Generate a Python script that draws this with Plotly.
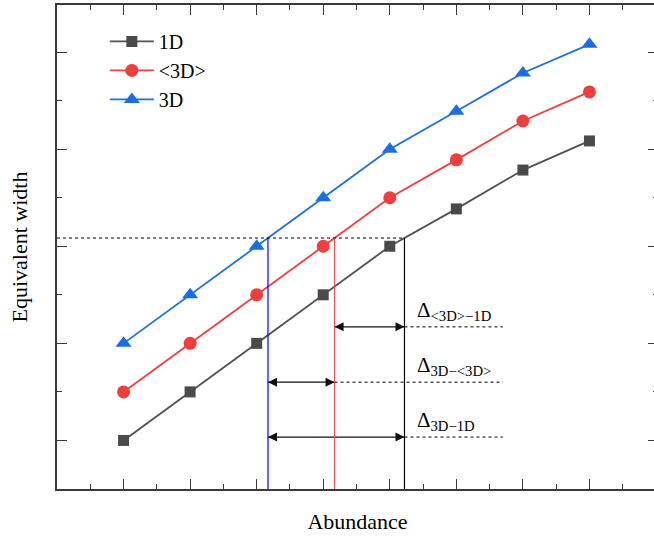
import numpy as np
import plotly.graph_objects as go

abundance = [1, 2, 3, 4, 5, 6, 7, 8]
ew_1d = [1.0, 2.0, 3.0, 4.0, 5.0, 5.77, 6.57, 7.17]
ew_3d_avg = [2.0, 3.0, 4.0, 5.0, 6.0, 6.78, 7.58, 8.18]
ew_3d = [3.0, 4.0, 5.0, 6.0, 7.0, 7.78, 8.57, 9.16]
series_names = ["1D", "&lt;3D&gt;", "3D"]

ew_level = 5.17            # equivalent width used for the comparison
arrow_levels = [3.34, 2.20, 1.07]
label_texts = ["Δ<sub>&lt;3D&gt;−1D</sub>", "Δ<sub>3D−&lt;3D&gt;</sub>", "Δ<sub>3D−1D</sub>"]
label_x = 5.38
dash_end = 6.70

FONT = "Liberation Serif, Times New Roman, serif"
AX = "#3a3a3a"

# abundance at which each curve reaches ew_level
x1d = float(np.interp(ew_level, ew_1d, abundance))
xavg = float(np.interp(ew_level, ew_3d_avg, abundance))
x3d = float(np.interp(ew_level, ew_3d, abundance))

fig = go.Figure()

shapes = []
# horizontal dashed level line
shapes.append(dict(type="line", xref="x", yref="y", x0=0, x1=x1d, y0=ew_level, y1=ew_level,
                   line=dict(color="black", width=1, dash="3px,3px")))
# vertical lines
for xv, col in [(x3d, "#0000ff"), (xavg, "#f25050"), (x1d, "black")]:
    shapes.append(dict(type="line", xref="x", yref="y", x0=xv, x1=xv, y0=0, y1=ew_level,
                       line=dict(color=col, width=1.2)))

pairs = [(xavg, x1d), (x3d, xavg), (x3d, x1d)]
annotations = []
for (xa, xb), lvl, txt in zip(pairs, arrow_levels, label_texts):
    shapes.append(dict(type="line", xref="x", yref="y", x0=xb, x1=dash_end, y0=lvl, y1=lvl,
                       line=dict(color="black", width=1, dash="3px,3px")))
    fig.add_trace(go.Scatter(x=[xa, xb], y=[lvl, lvl], mode="lines+markers", showlegend=False,
                             hoverinfo="skip", line=dict(color="#111111", width=1.3),
                             marker=dict(symbol=["arrow-left", "arrow-right"], size=9,
                                         color="#111111", line=dict(width=0))))
    annotations.append(dict(x=label_x, y=lvl, xref="x", yref="y", text=txt, showarrow=False,
                            xanchor="left", yanchor="bottom", yshift=1,
                            font=dict(family=FONT, size=21, color="black")))

fig.add_trace(go.Scatter(x=abundance, y=ew_1d, name=series_names[0], mode="lines+markers",
                         line=dict(color="#505050", width=1.8),
                         marker=dict(symbol="square", size=11, color="#4a4a4a")))
fig.add_trace(go.Scatter(x=abundance, y=ew_3d_avg, name=series_names[1], mode="lines+markers",
                         line=dict(color="#ef4040", width=1.8),
                         marker=dict(symbol="circle", size=13, color="#ef3e3e")))
fig.add_trace(go.Scatter(x=abundance, y=ew_3d, name=series_names[2], mode="lines+markers",
                         line=dict(color="#1f6fe0", width=1.8),
                         marker=dict(symbol="triangle-up", size=14, color="#1a6de6")))

fig.update_layout(
    width=660, height=538,
    margin=dict(l=57, r=0, t=5, b=49),
    plot_bgcolor="white", paper_bgcolor="white",
    font=dict(family=FONT, size=22, color="black"),
    shapes=shapes, annotations=annotations,
    legend=dict(x=0.0796, y=0.965, xanchor="left", yanchor="top", bgcolor="rgba(0,0,0,0)",
                font=dict(family=FONT, size=20), tracegroupgap=0, itemwidth=44),
)
fig.update_xaxes(range=[0, 9.03], showgrid=False, zeroline=False, showline=True, linecolor=AX,
                 linewidth=1.5, mirror="ticks", ticks="inside", ticklen=10, tickwidth=1.2,
                 tickcolor=AX, tick0=0, dtick=1, showticklabels=False,
                 minor=dict(ticks="inside", ticklen=5, tickwidth=1.2, tickcolor=AX, dtick=0.5, tick0=0),
                 title=dict(text="Abundance", standoff=24, font=dict(family=FONT, size=22)))
fig.update_yaxes(range=[0, 9.97], showgrid=False, zeroline=False, showline=True, linecolor=AX,
                 linewidth=1.5, mirror="ticks", ticks="inside", ticklen=10, tickwidth=1.2,
                 tickcolor=AX, tick0=1, dtick=2, showticklabels=False,
                 minor=dict(ticks="inside", ticklen=5, tickwidth=1.2, tickcolor=AX, dtick=1, tick0=0),
                 title=dict(text="Equivalent width", standoff=22, font=dict(family=FONT, size=22)))

fig.write_html("out.html", config={"displayModeBar": False},
               post_script="document.body.style.margin='0';document.body.style.overflow='hidden';")
